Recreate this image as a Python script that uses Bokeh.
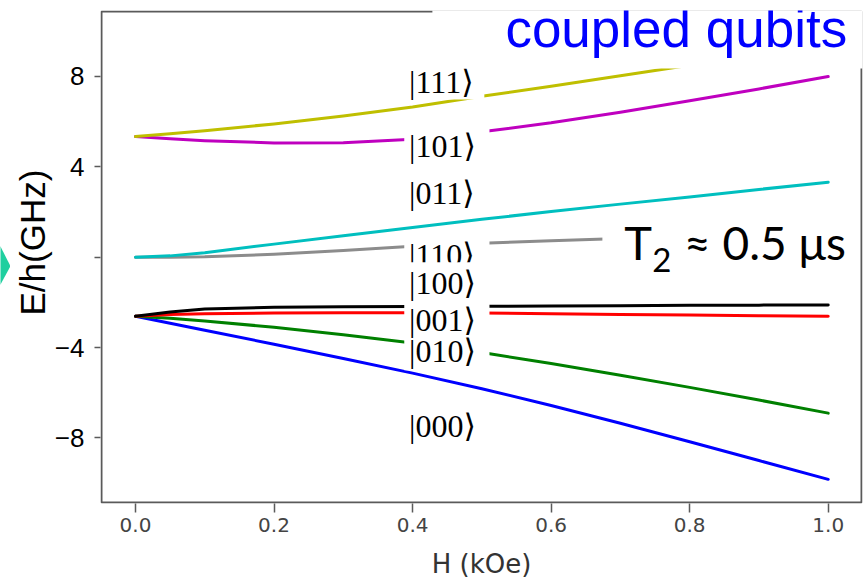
from bokeh.plotting import figure
from bokeh.layouts import row
from bokeh.models import (Range1d, FixedTicker, Label, BoxAnnotation, Title, PolyAnnotation,
                          NumeralTickFormatter)
from bokeh.embed import file_html
from bokeh.resources import INLINE

# Magnetic field (kOe)
field = [0.0, 0.05, 0.1, 0.2, 0.3, 0.4, 0.5, 0.6, 0.7, 0.8, 0.9, 1.0]

# Energy levels E/h (GHz) of the three coupled qubits
e_000 = [-2.61, -2.92, -3.23, -3.85, -4.48, -5.13, -5.82, -6.56, -7.35, -8.17, -9.00, -9.83]
e_010 = [-2.61, -2.70, -2.82, -3.10, -3.43, -3.80, -4.22, -4.70, -5.22, -5.76, -6.32, -6.90]
e_001 = [-2.61, -2.54, -2.50, -2.47, -2.46, -2.46, -2.47, -2.50, -2.53, -2.56, -2.59, -2.61]
e_100 = [-2.61, -2.42, -2.29, -2.21, -2.19, -2.18, -2.17, -2.16, -2.15, -2.13, -2.12, -2.11]
e_110 = [0.00, 0.00, 0.02, 0.13, 0.30, 0.49, 0.62, 0.73, 0.83, 0.93, 1.02, 1.11]
e_011 = [0.00, 0.06, 0.20, 0.58, 0.95, 1.32, 1.68, 2.02, 2.35, 2.67, 3.00, 3.32]
e_101 = [5.34, 5.24, 5.16, 5.06, 5.07, 5.22, 5.55, 5.95, 6.42, 6.93, 7.45, 8.00]
e_111 = [5.34, 5.46, 5.60, 5.90, 6.25, 6.65, 7.12, 7.57, 8.03, 8.50, 9.00, 9.52]

levels = [e_000, e_010, e_001, e_100, e_110, e_011, e_101, e_111]
level_colors = ["#0000ff", "#008000", "#ff0000", "#000000", "#8c8c8c", "#00bfbf", "#bf00bf", "#bfbf00"]

y_ticks = [-8, -4, 0, 4, 8]
x_ticks = [0.0, 0.2, 0.4, 0.6, 0.8, 1.0]

# state names and the heights at which they are written
state_names = ["|111⟩", "|101⟩", "|011⟩", "|110⟩", "|100⟩", "|001⟩", "|010⟩", "|000⟩"]
state_y = [7.77, 4.94, 2.86, 0.12, -1.16, -2.80, -4.13, -7.49]
state_x = 0.395

X0, X1 = -0.0505, 1.0495
Y0, Y1 = -10.90, 10.92
PX = 1.1 / 762      # one pixel in x data units
PY = 21.82 / 493    # one pixel in y data units

STRIP_W = 10

p = figure(title=None, output_backend="svg", toolbar_location=None,
           frame_width=762, frame_height=493,
           x_range=Range1d(X0, X1), y_range=Range1d(Y0, Y1),
           min_border_left=85 - STRIP_W + 10 - 10, min_border_right=6, min_border_top=10,
           min_border_bottom=81)
p.outline_line_color = None
p.grid.visible = False
p.background_fill_color = "white"
p.border_fill_color = "white"

for vals, col in zip(levels, level_colors):
    p.line(field, vals, line_color=col, line_width=3, line_join="round", line_cap="round")

spine = "#5a5a5a"
p.xaxis.ticker = FixedTicker(ticks=x_ticks)
p.yaxis.ticker = FixedTicker(ticks=y_ticks)
p.xaxis.formatter = NumeralTickFormatter(format="0.0")
p.yaxis.major_label_overrides = {0: ""}
p.axis.axis_line_color = None
p.axis.major_tick_line_color = spine
p.axis.major_tick_line_width = 1.5
p.axis.minor_tick_line_color = None
p.axis.major_tick_in = 0
p.xaxis.major_tick_out = 9
p.yaxis.major_tick_out = 6

p.yaxis.major_label_text_font = "Liberation Sans"
p.yaxis.major_label_text_font_size = "26px"
p.yaxis.major_label_text_color = "black"
p.yaxis.major_label_standoff = 10

p.xaxis.major_label_text_font = "DejaVu Sans"
p.xaxis.major_label_text_font_size = "20px"
p.xaxis.major_label_text_color = "#444444"
p.xaxis.major_label_standoff = 5
p.xaxis.axis_label = "H (kOe)"
p.xaxis.axis_label_text_font = "DejaVu Sans"
p.xaxis.axis_label_text_font_size = "26px"
p.xaxis.axis_label_text_font_style = "normal"
p.xaxis.axis_label_text_color = "#333333"
p.xaxis.axis_label_standoff = 14

# vertical axis title
p.add_layout(Title(text="E/h(GHz)", align="left", offset=188, text_font="Liberation Sans",
                   text_font_size="35px", text_font_style="normal", text_color="black",
                   standoff=0), "left")

# frame drawn as an annotation so the white panels can sit over it
p.add_layout(BoxAnnotation(left=X0 + PX, right=X1 - PX, bottom=Y0 + PY, top=Y1 - PY,
                           fill_color=None, line_color=spine, line_alpha=1.0, line_width=2))

def white_box(l, r, b, t):
    p.add_layout(BoxAnnotation(left=l, right=r, bottom=b, top=t, fill_color="white",
                               fill_alpha=1.0, line_color=None))

serif = "'Liberation Serif', 'DejaVu Serif', serif"

def state_label(i):
    p.add_layout(Label(x=state_x, y=state_y[i], text=state_names[i], text_font=serif,
                       text_font_size="32px", text_color="black",
                       text_align="left", text_baseline="alphabetic"))

# white panels behind the state names
white_box(0.391, 0.5036, 6.98, 8.53)
white_box(0.388, 0.511, 4.01, 6.05)
white_box(0.388, 0.511, 1.98, 3.75)
white_box(0.388, 0.511, -0.22, 0.83)
state_label(0)
state_label(1)
state_label(2)
state_label(3)
white_box(0.388, 0.511, -5.0, -0.22)
for i in range(4, 8):
    state_label(i)

# T2 note
white_box(0.674, 1.045, -1.56, 2.15)
p.add_layout(Label(x=0.7056, y=0.66, text="T", text_font="Lato", text_font_size="47px",
                   text_color="black", text_baseline="alphabetic"))
p.add_layout(Label(x=0.746, y=-0.11, text="2", text_font="Lato", text_font_size="33px",
                   text_color="black", text_baseline="alphabetic"))
p.add_layout(Label(x=0.792, y=0.66, text="≈ 0.5 μs", text_font="Lato", text_font_size="46px",
                   text_color="black", text_baseline="alphabetic"))

# title panel in the upper right corner
white_box(0.4286, 1.06, 8.35, 11.5)
p.add_layout(Label(x=1.0274, y=10.12, text="coupled qubits", text_font="Liberation Sans",
                   text_font_size="53px", text_color="#0000ff", text_align="right",
                   text_baseline="alphabetic"))

# narrow strip on the left carrying the tip of the green arrow (pixel coordinates)
strip = figure(title=None, output_backend="svg", toolbar_location=None,
               frame_width=STRIP_W, frame_height=584,
               x_range=Range1d(0, STRIP_W), y_range=Range1d(584, 0),
               x_axis_type=None, y_axis_type=None,
               min_border=0, min_border_left=0, min_border_right=0,
               min_border_top=0, min_border_bottom=0)
strip.outline_line_color = None
strip.grid.visible = False
strip.background_fill_color = "white"
strip.border_fill_color = "white"
strip.add_layout(PolyAnnotation(xs=[-5, 0, 10, 0, -5], ys=[236, 236, 255.7, 274, 274],
                                fill_color="#1fcf9f", fill_alpha=1.0, line_color=None))

page = row(strip, p, spacing=0)
open("out.html", "w").write(file_html(page, INLINE))
